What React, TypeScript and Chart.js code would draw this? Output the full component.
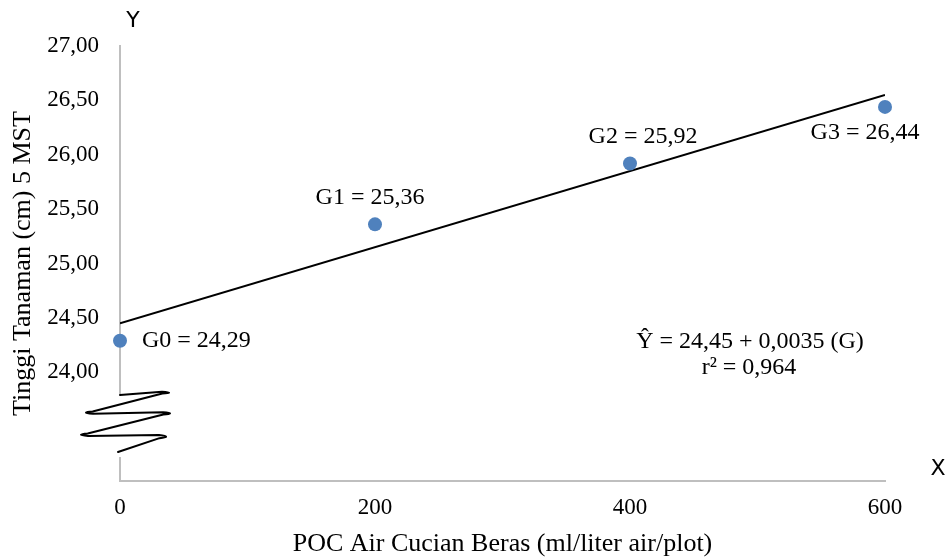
import React, { useEffect, useRef } from 'react';
import { Chart, registerables } from 'chart.js';

Chart.register(...registerables);

// ---- data ----
const doses = [0, 200, 400, 600];
const heights = [24.29, 25.36, 25.92, 26.44];
const pointLabels = ['G0 = 24,29', 'G1 = 25,36', 'G2 = 25,92', 'G3 = 26,44'];
const trendX = [0, 600];
const trendY = [24.45, 26.55];
const equationLines = ['Ŷ = 24,45 + 0,0035 (G)', 'r² = 0,964'];
const xTitle = 'POC Air Cucian Beras (ml/liter air/plot)';
const yTitle = 'Tinggi Tanaman (cm) 5 MST';

const SERIF = '"Liberation Serif", "Times New Roman", serif';
const SANS = '"DejaVu Sans", "Open Sans", sans-serif';

// label offsets (px) relative to each point: [dx, dy, align]
const labelOffsets: [number, number, CanvasTextAlign][] = [
  [22, 0, 'left'],
  [-5, -27, 'center'],
  [13, -27, 'center'],
  [-20, 26, 'center'],
];

const annotPlugin = {
  id: 'annot',
  afterDraw(chart: any) {
    const ctx = chart.ctx as CanvasRenderingContext2D;
    const xs = chart.scales.x;
    const ys = chart.scales.y;
    const { left, bottom, right, top } = chart.chartArea;
    ctx.save();
    // point labels
    ctx.fillStyle = '#000';
    ctx.font = `24px ${SERIF}`;
    ctx.textBaseline = 'middle';
    doses.forEach((d, i) => {
      const px = xs.getPixelForValue(d);
      const py = ys.getPixelForValue(heights[i]);
      const [dx, dy, al] = labelOffsets[i];
      ctx.textAlign = al;
      ctx.fillText(pointLabels[i], px + dx, py + dy);
    });
    // equation
    ctx.textAlign = 'center';
    ctx.fillText(equationLines[0], left + 630, bottom - 139);
    ctx.fillText(equationLines[1], left + 629, bottom - 113);

    // axis break
    ctx.fillStyle = '#fff';
    ctx.fillRect(left - 3, bottom - 87, 6, 63);
    const P: [number, number][] = [
      [0, -86], [52, -90], [-37, -67], [53, -69], [-42, -45], [49, -46], [-2, -29],
    ].map(([dx, dy]) => [left + dx, bottom + dy]);
    ctx.strokeStyle = '#000';
    ctx.lineWidth = 2;
    ctx.lineJoin = 'round';
    ctx.lineCap = 'round';
    ctx.beginPath();
    ctx.moveTo(P[0][0], P[0][1]);
    for (let i = 1; i < P.length - 1; i++) {
      const [px, py] = P[i - 1];
      const [cx, cy] = P[i];
      const [nx, ny] = P[i + 1];
      const l1 = Math.hypot(cx - px, cy - py);
      const l2 = Math.hypot(nx - cx, ny - cy);
      const r = 10;
      const ax = cx - ((cx - px) / l1) * r;
      const ay = cy - ((cy - py) / l1) * r;
      const bx = cx + ((nx - cx) / l2) * r;
      const by = cy + ((ny - cy) / l2) * r;
      const sgn = cx > left ? 1 : -1;
      ctx.lineTo(ax, ay);
      ctx.quadraticCurveTo(cx + sgn * 4, (ay + by) / 2, bx, by);
    }
    ctx.lineTo(P[P.length - 1][0], P[P.length - 1][1]);
    ctx.stroke();

    // axis letters
    ctx.fillStyle = '#000';
    ctx.font = `22px ${SANS}`;
    ctx.textAlign = 'center';
    ctx.fillText('Y', left + 13, top - 25);
    ctx.fillText('X', right + 53, bottom - 12);
    ctx.restore();
  },
};

export default function App() {
  const ref = useRef<HTMLCanvasElement | null>(null);
  useEffect(() => {
    document.body.style.margin = '0';
    const canvas = ref.current!;
    const chart = new Chart(canvas, {
      type: 'scatter',
      data: {
        datasets: [
          {
            type: 'line',
            label: 'trend',
            data: trendX.map((x, i) => ({ x, y: trendY[i] })),
            borderColor: '#000',
            borderWidth: 2,
            pointRadius: 0,
            fill: false,
            order: 2,
          } as any,
          {
            type: 'scatter',
            label: 'data',
            data: doses.map((x, i) => ({ x, y: heights[i] })),
            backgroundColor: '#4f81bd',
            borderColor: '#4f81bd',
            pointRadius: 7,
            pointBorderWidth: 0,
            clip: false,
            order: 1,
          } as any,
        ],
      },
      options: {
        responsive: false,
        animation: false,
        layout: { padding: { top: 46, right: 66, left: 0, bottom: 0 } },
        plugins: { legend: { display: false }, tooltip: { enabled: false } },
        scales: {
          x: {
            type: 'linear',
            min: 0,
            max: 600,
            ticks: {
              stepSize: 200,
              padding: 13,
              color: '#000',
              font: { family: SERIF, size: 23 },
            },
            grid: { display: false, drawTicks: false },
            border: { display: true, color: '#bfbfbf', width: 2 },
            title: {
              display: true,
              text: xTitle,
              color: '#000',
              font: { family: SERIF, size: 26 },
              padding: { top: 0, bottom: 0 },
            },
            afterFit: (s: any) => {
              s.height = 79;
            },
          },
          y: {
            type: 'linear',
            min: 23,
            max: 27,
            ticks: {
              stepSize: 0.5,
              padding: 21,
              color: '#000',
              font: { family: SERIF, size: 23 },
              callback: (v: any) => (Number(v) >= 24 ? Number(v).toFixed(2).replace('.', ',') : ''),
            },
            grid: { display: false, drawTicks: false },
            border: { display: true, color: '#bfbfbf', width: 2 },
            title: {
              display: true,
              text: yTitle,
              color: '#000',
              font: { family: SERIF, size: 26 },
              padding: { top: 8, bottom: 0 },
            },
            afterFit: (s: any) => {
              s.width = 120;
            },
          },
        },
      },
      plugins: [annotPlugin],
    });
    return () => chart.destroy();
  }, []);
  return (
    <div style={{ width: 951, height: 560 }}>
      <canvas ref={ref} width={951} height={560} style={{ display: 'block' }} />
    </div>
  );
}
